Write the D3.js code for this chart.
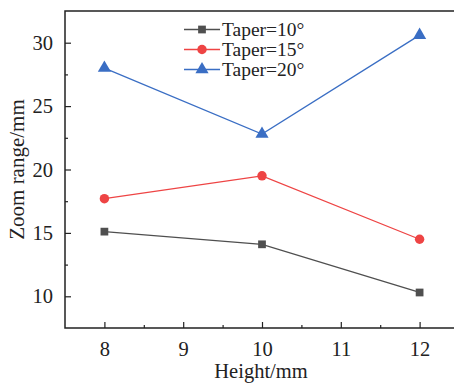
<!DOCTYPE html>
<html>
<head>
<meta charset="utf-8">
<script src="https://cdn.jsdelivr.net/npm/d3@7"></script>
<style>
  body { margin: 0; background: #fff; }
</style>
</head>
<body>
<svg id="chart" width="454" height="383"></svg>
<script>
// chart data
let heights = [8, 10, 12]
let taper10 = [15.1, 14.1, 10.3]
let taper15 = [17.7, 19.5, 14.5]
let taper20 = [28.0, 22.8, 30.6]
let seriesNames = ['Taper=10°', 'Taper=15°', 'Taper=20°']
let xTicks = [8, 9, 10, 11, 12]
let yTicks = [10, 15, 20, 25, 30]

let colors = ['#4f4f4f', '#ee4444', '#3a6ec4']
let shapes = [d3.symbolSquare, d3.symbolCircle, d3.symbolTriangle]
let sizes = [60, 70, 75]
let serif = "'Liberation Serif', 'Times New Roman', Times, serif"

let svg = d3.select('#chart')
let plotLeft = 65, plotTop = 11, plotRight = 459, plotBottom = 328

let x = d3.scaleLinear().domain([7.5, 12.5]).range([plotLeft, plotRight])
let y = d3.scaleLinear().domain([7.5, 32.5]).range([plotBottom, plotTop])

// axes
svg.append('g')
    .attr('transform', 'translate(0,' + plotBottom + ')')
    .call(d3.axisBottom(x).tickValues(xTicks).tickSize(-6).tickPadding(13).tickFormat(d3.format('d')))
svg.append('g')
    .attr('transform', 'translate(0,' + plotBottom + ')')
    .call(d3.axisBottom(x).tickValues([8.5, 9.5, 10.5, 11.5]).tickSize(-3).tickFormat(''))

svg.append('g')
    .attr('transform', 'translate(' + plotLeft + ',0)')
    .call(d3.axisLeft(y).tickValues(yTicks).tickSize(-6).tickPadding(12).tickFormat(d3.format('d')))
svg.append('g')
    .attr('transform', 'translate(' + plotLeft + ',0)')
    .call(d3.axisLeft(y).tickValues([12.5, 17.5, 22.5, 27.5]).tickSize(-3).tickFormat(''))

svg.selectAll('.domain').remove()
svg.selectAll('g').attr('font-family', null)
svg.selectAll('.tick line').attr('stroke', '#222').attr('stroke-width', 1.2)
svg.selectAll('.tick text').attr('font-size', 20.5).attr('fill', '#222')

// frame (top, left, bottom)
svg.append('path')
    .attr('d', 'M' + plotRight + ',' + plotTop + 'H' + plotLeft + 'V' + plotBottom + 'H' + plotRight)
    .attr('fill', 'none')
    .attr('stroke', '#222')
    .attr('stroke-width', 1.5)

// titles
svg.append('text')
    .attr('x', 261)
    .attr('y', 378)
    .attr('text-anchor', 'middle')
    .attr('font-size', 20.5)
    .text('Height/mm')

svg.append('text')
    .attr('transform', 'translate(24,' + ((plotTop + plotBottom) / 2) + ') rotate(-90)')
    .attr('text-anchor', 'middle')
    .attr('font-size', 21)
    .text('Zoom range/mm')

// series
let allSeries = [taper10, taper15, taper20]
let line = d3.line()
    .x((d, i) => x(heights[i]))
    .y(d => y(d))

allSeries.forEach((vals, k) => {
    svg.append('path')
        .datum(vals)
        .attr('d', line)
        .attr('fill', 'none')
        .attr('stroke', colors[k])
        .attr('stroke-width', 1.3)

    svg.selectAll('.pt' + k)
        .data(vals)
        .enter()
        .append('path')
        .attr('class', 'pt' + k)
        .attr('d', d3.symbol().type(shapes[k]).size(sizes[k]))
        .attr('transform', (d, i) => 'translate(' + x(heights[i]) + ',' + y(d) + ')')
        .attr('fill', colors[k])
})

// legend
let legend = svg.append('g').attr('transform', 'translate(184,29.5)')
seriesNames.forEach((name, k) => {
    let row = legend.append('g').attr('transform', 'translate(0,' + (k * 20) + ')')
    row.append('line')
        .attr('x1', 0).attr('x2', 36)
        .attr('stroke', colors[k]).attr('stroke-width', 1.3)
    row.append('path')
        .attr('d', d3.symbol().type(shapes[k]).size(sizes[k]))
        .attr('transform', 'translate(18,0)')
        .attr('fill', colors[k])
    row.append('text')
        .attr('x', 38)
        .attr('y', 6.5)
        .attr('font-size', 19.5)
        .text(name)
})

svg.selectAll('text').attr('font-family', serif).attr('fill', '#222')
</script>
</body>
</html>
